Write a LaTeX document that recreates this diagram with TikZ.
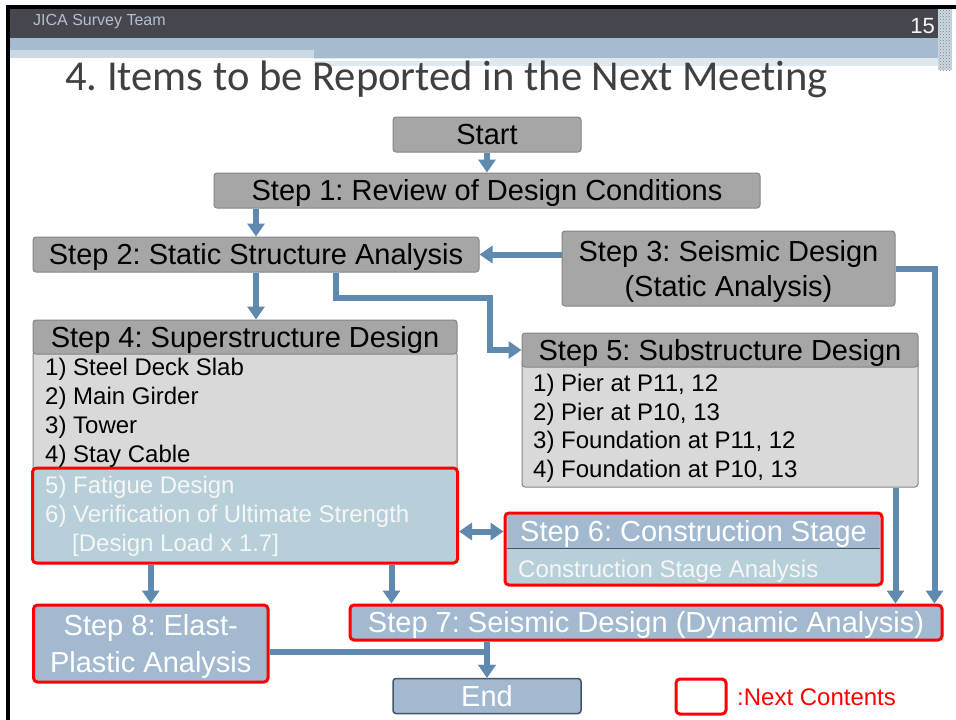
\documentclass[tikz,border=0pt]{standalone}
\usepackage{fontspec}
\setmainfont{Liberation Sans}
\newfontfamily\titlefont[Ligatures=NoCommon]{Carlito}
\usetikzlibrary{arrows.meta,patterns}
\definecolor{boxgray}{HTML}{A6A6A6}
\definecolor{edgegray}{HTML}{858585}
\definecolor{bodygray}{HTML}{D9D9D9}
\definecolor{bodyblue}{HTML}{B7CFD8}
\definecolor{headblue}{HTML}{A2B9D0}
\definecolor{nextred}{HTML}{FF0000}
\definecolor{arrowblue}{HTML}{5F89AE}
\definecolor{enddark}{HTML}{44546A}
\definecolor{hdrdark}{HTML}{46464F}
\definecolor{hdrblue}{HTML}{A4BBD0}
\definecolor{hdrlight}{HTML}{CCD9E4}
\definecolor{titlegray}{HTML}{404040}
\definecolor{jica}{HTML}{B4C0D0}
\definecolor{offwhite}{HTML}{F6F6F6}
\pgfdeclarelayer{bg}
\pgfsetlayers{bg,main}
\frenchspacing
\tikzset{
  boxbase/.style={rounded corners=3pt, line width=1pt, inner sep=0pt, font=\fontsize{29}{35}\selectfont},
  box/.style={boxbase, text height=20.8pt, text depth=0pt},
  graybox/.style={box, fill=boxgray, draw=edgegray, text=black},
  bluebox/.style={box, fill=headblue, draw=nextred, line width=3pt, rounded corners=4pt, text=white},
  item/.style={anchor=base west, inner sep=0pt, font=\fontsize{24}{29}\selectfont},
  arr/.style={draw=arrowblue, line width=6pt, -{Triangle[width=17pt,length=13pt]}},
  dblarr/.style={draw=arrowblue, line width=6pt, {Triangle[width=17pt,length=13pt]}-{Triangle[width=17pt,length=13pt]}},
}
\begin{document}
\begin{tikzpicture}[x=1pt,y=-1pt]
\useasboundingbox (0,0) rectangle (956,720);
\begin{pgfonlayer}{bg}
\fill[white] (0,0) rectangle (956,720);
\end{pgfonlayer}
% slide header
\fill[black] (6,5) rectangle (956,8.5);
\fill[black] (6,5) rectangle (9.5,720);
\fill[hdrdark] (10,9) rectangle (938,38);
\fill[hdrblue] (10,38) rectangle (938,50);
\fill[hdrlight] (10,50) rectangle (314,58);
\fill[hdrblue] (314,50) rectangle (938,58);
\fill[hdrlight!60!white] (314,58) rectangle (938,66);
\fill[white] (314,59) rectangle (490,61);
\fill[hdrlight] (938,9) rectangle (952,70);
\fill[pattern=crosshatch dots, pattern color=gray] (938,9) rectangle (952,70);
\node[anchor=base west, inner sep=0pt, text=jica, font=\fontsize{16}{18}\selectfont] (hdr) at (33,25) {JICA Survey Team};
\node[anchor=base east, inner sep=0pt, text=offwhite, font=\fontsize{22}{24}\selectfont] (pg) at (935,33) {15};
\node[anchor=base west, inner sep=0pt, text=titlegray, font=\titlefont\fontsize{42.6}{46}\selectfont] (title) at (65,90) {4. Items to be Reported in the Next Meeting};

% boxes
\node[graybox, minimum width=188pt, minimum height=35pt] (s0) at (487,134.5) {Start};
\node[graybox, minimum width=546pt, minimum height=35pt] (s1) at (487,190.5) {Step 1: Review of Design Conditions};
\node[graybox, minimum width=446pt, minimum height=35pt] (s2) at (256,254.5) {Step 2: Static Structure Analysis};
\node[boxbase, fill=boxgray, draw=edgegray, minimum width=333pt, minimum height=75pt] (s3) at (728.5,268.5) {};
\node[boxbase, align=center, inner sep=0pt] (s3t) at (728.5,271) {Step 3: Seismic Design\\(Static Analysis)};

% step 4
\node[draw=edgegray, fill=bodygray, line width=1pt, rounded corners=3pt, minimum width=424pt, minimum height=120pt, inner sep=0pt] (s4b) at (245,411) {};
\node[graybox, minimum width=424pt, minimum height=34pt] (s4h) at (245,337) {Step 4: Superstructure Design};
\node[draw=nextred, fill=bodyblue, line width=3pt, rounded corners=4pt, minimum width=425pt, minimum height=95pt, inner sep=0pt] (s4r) at (245,515.5) {};
\node[item] (s4i1) at (45,375) {1) Steel Deck Slab};
\node[item] (s4i2) at (45,404) {2) Main Girder};
\node[item] (s4i3) at (45,433) {3) Tower};
\node[item] (s4i4) at (45,462) {4) Stay Cable};
\node[item, text=offwhite] (s4i5) at (45,493) {5) Fatigue Design};
\node[item, text=offwhite] (s4i6) at (45,522) {6) Verification of Ultimate Strength};
\node[item, text=offwhite] (s4i7) at (72,551) {[Design Load x 1.7]};

% step 5
\node[draw=edgegray, fill=bodygray, line width=1pt, rounded corners=3pt, minimum width=396pt, minimum height=127pt, inner sep=0pt] (s5b) at (720,423.5) {};
\node[graybox, minimum width=396pt, minimum height=34pt] (s5h) at (720,350) {Step 5: Substructure Design};
\node[item] (s5i1) at (533,391.5) {1) Pier at P11, 12};
\node[item] (s5i2) at (533,420) {2) Pier at P10, 13};
\node[item] (s5i3) at (533,448.5) {3) Foundation at P11, 12};
\node[item] (s5i4) at (533,477) {4) Foundation at P10, 13};

% step 6
\node[draw=nextred, fill=bodyblue, line width=3pt, rounded corners=4pt, minimum width=377pt, minimum height=72pt, inner sep=0pt] (s6) at (693.5,549) {};
\node[box, fill=headblue, rounded corners=2pt, draw=none, text=white, minimum width=372pt, minimum height=33pt] (s6h) at (693.5,531.5) {Step 6: Construction Stage};
\draw[enddark, line width=1.2pt] (s6h.south west) -- (s6h.south east);
\node[item, text=offwhite] (s6i) at (518,577) {Construction Stage Analysis};

% step 7, 8, end
\node[bluebox, minimum width=592pt, minimum height=35pt] (s7) at (646,622.5) {Step 7: Seismic Design (Dynamic Analysis)};
\node[boxbase, fill=headblue, draw=nextred, line width=3pt, rounded corners=4pt, minimum width=234.5pt, minimum height=77pt] (s8) at (150.75,643.5) {};
\node[boxbase, align=center, text=white, font=\fontsize{29}{37}\selectfont] (s8t) at (150.75,646.5) {Step 8: Elast-\\Plastic Analysis};
\node[box, fill=headblue, draw=enddark, line width=1.5pt, text=white, minimum width=188pt, minimum height=35pt] (e) at (487,696) {End};

% legend
\node[draw=nextred, fill=white, line width=3pt, rounded corners=4pt, minimum width=50pt, minimum height=35pt, inner sep=0pt] (lg) at (701,696.5) {};
\node[item, text=nextred] (lgt) at (737,705.5) {:Next Contents};

% connectors
\begin{pgfonlayer}{bg}
\coordinate (j25) at (490,298);
\draw[arr] (s0.south) -- (s1.north);
\draw[arr] (s2.north |- s1.south) -- (s2.north);
\draw[arr] (s2.east -| s3.west) -- (s2.east);
\draw[arr] (s2.south) -- (s2.south |- s4h.north);
\draw[arr] ([xshift=80pt]s2.south) |- (j25) |- (s5h.west);
\draw[arr] (s3.east) -| ([xshift=-9pt]s7.north east);
\draw[arr] ([xshift=-23pt]s5b.south east) -- ([xshift=-23pt]s5b.south east |- s7.north);
\draw[arr] (s4r.south -| s8.north) -- (s8.north);
\draw[arr] ([xshift=43pt]s7.west |- s4r.south) -- ([xshift=43pt]s7.north west);
\draw[dblarr] (s4r.east |- s6h) -- (s6.west |- s6h);
\draw[arr] ([yshift=-8pt]s8.east) -| (e.north);
\draw[arr] (e.north |- s7.south) -- (e.north);
\end{pgfonlayer}
\end{tikzpicture}
\end{document}
